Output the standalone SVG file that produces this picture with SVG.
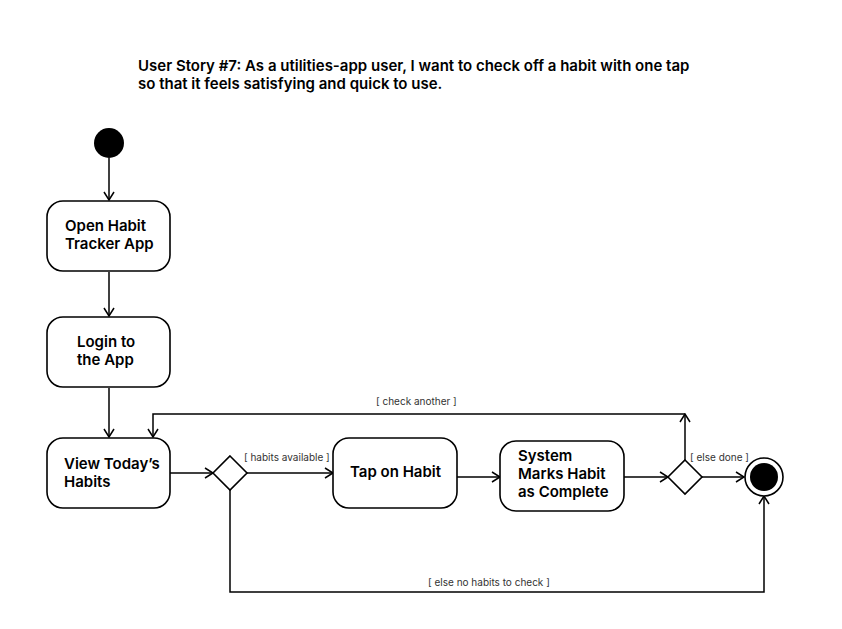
<svg xmlns="http://www.w3.org/2000/svg" width="842" height="629" viewBox="0 0 842 629">
<defs>
<style>
.node{fill:#fff;stroke:#000;stroke-width:1.6}
.lbl{font-family:Inter,"Liberation Sans",sans-serif;font-size:15px;font-weight:600;fill:#000}
.title{font-family:Inter,"Liberation Sans",sans-serif;font-size:15px;font-weight:600;fill:#000}
.elbl{font-family:Inter,"Liberation Sans",sans-serif;font-size:10px;fill:#333}
.edge{fill:none;stroke:#000;stroke-width:1.5;marker-end:url(#arr)}
.line{fill:none;stroke:#000;stroke-width:1.5}
</style>
<marker id="arr" viewBox="0 0 10 12" refX="9" refY="6" markerWidth="10" markerHeight="12" markerUnits="userSpaceOnUse" orient="auto">
<path d="M1,1 L9,6 L1,11" fill="none" stroke="#000" stroke-width="1.5"/>
</marker>
</defs>
<rect width="842" height="629" fill="#fff"/>
<g id="title">
<text class="title" x="138" y="71">User Story #7: As a utilities-app user, I want to check off a habit with one tap</text>
<text class="title" x="138" y="89">so that it feels satisfying and quick to use.</text>
</g>
<g id="connectors">
<path class="edge" d="M109,158 L109,200"/>
<path class="edge" d="M109,272 L109,316"/>
<path class="edge" d="M109,388 L109,437"/>
<path class="edge" d="M170,473 L213,473"/>
<path class="edge" d="M247,473 L333,473"/>
<path class="edge" d="M457,477 L500,477"/>
<path class="edge" d="M624,477 L668,477"/>
<path class="edge" d="M702,477 L744,477"/>
<path class="edge" d="M685,460 L685,414"/>
<path class="edge" d="M685,414 L153,414 L153,437"/>
<path class="edge" d="M230,490 L230,592 L764,592 L764,496"/>
<text class="elbl" x="244" y="461">[ habits available ]</text>
<text class="elbl" x="690" y="461">[ else done ]</text>
<text class="elbl" x="376" y="405">[ check another ]</text>
<text class="elbl" x="428" y="586">[ else no habits to check ]</text>
</g>
<g id="start">
<circle cx="109" cy="143" r="15" fill="#000"/>
</g>
<g id="open">
<rect class="node" x="47" y="201" width="123" height="70" rx="16"/>
<text class="lbl" x="65" y="231">Open Habit</text>
<text class="lbl" x="65" y="249">Tracker App</text>
</g>
<g id="login">
<rect class="node" x="47" y="317" width="123" height="70" rx="16"/>
<text class="lbl" x="77" y="347">Login to</text>
<text class="lbl" x="77" y="365">the App</text>
</g>
<g id="view">
<rect class="node" x="47" y="438" width="123" height="70" rx="16"/>
<text class="lbl" x="64" y="469">View Today’s</text>
<text class="lbl" x="64" y="487">Habits</text>
</g>
<g id="decision1">
<path class="node" d="M230,456 L247,473 L230,490 L213,473 Z"/>
</g>
<g id="tap">
<rect class="node" x="333" y="438" width="124" height="70" rx="16"/>
<text class="lbl" x="350" y="477">Tap on Habit</text>
</g>
<g id="system">
<rect class="node" x="500" y="441" width="124" height="70" rx="16"/>
<text class="lbl" x="518" y="461">System</text>
<text class="lbl" x="518" y="479">Marks Habit</text>
<text class="lbl" x="518" y="497">as Complete</text>
</g>
<g id="decision2">
<path class="node" d="M685,460 L702,477 L685,494 L668,477 Z"/>
</g>
<g id="end">
<circle cx="764" cy="477" r="19" fill="#fff" stroke="#000" stroke-width="1.6"/>
<circle cx="764" cy="477" r="14" fill="#000"/>
</g>
</svg>
